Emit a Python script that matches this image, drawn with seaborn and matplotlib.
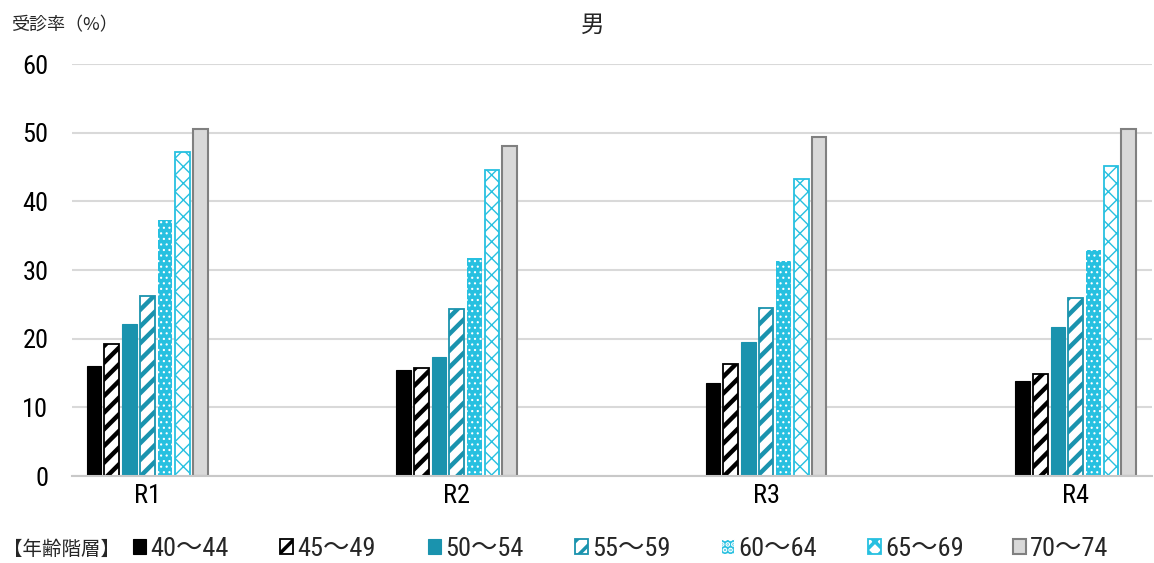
import matplotlib
matplotlib.use("Agg")
import matplotlib.pyplot as plt
from matplotlib import font_manager as fm
from matplotlib.patches import Patch
import seaborn as sns
import pandas as pd

# Screening rate (%) by fiscal year and age bracket, men
years = ["R1", "R2", "R3", "R4"]
age_groups = ["40～44", "45～49", "50～54", "55～59", "60～64", "65～69", "70～74"]
rate_40_44 = [16.0, 15.4, 13.6, 13.9]
rate_45_49 = [19.2, 15.7, 16.3, 14.9]
rate_50_54 = [22.1, 17.3, 19.5, 21.7]
rate_55_59 = [26.2, 24.3, 24.5, 25.9]
rate_60_64 = [37.3, 31.7, 31.3, 32.9]
rate_65_69 = [47.2, 44.6, 43.3, 45.1]
rate_70_74 = [50.5, 48.1, 49.4, 50.5]

series = [rate_40_44, rate_45_49, rate_50_54, rate_55_59, rate_60_64, rate_65_69, rate_70_74]
df = pd.DataFrame(
    [(y, g, v) for g, vals in zip(age_groups, series) for y, v in zip(years, vals)],
    columns=["year", "age", "rate"],
)

TEAL = "#1a93ae"
CYAN = "#27c0e0"
styles = [
    dict(facecolor="black", edgecolor="black", hatch=None, lw=0.8, hlw=1.0),
    dict(facecolor="white", edgecolor="black", hatch="//", lw=1.3, hlw=3.2),
    dict(facecolor=TEAL, edgecolor=TEAL, hatch=None, lw=0.8, hlw=1.0),
    dict(facecolor="white", edgecolor=TEAL, hatch="//", lw=1.3, hlw=3.2),
    dict(facecolor=CYAN, edgecolor="white", hatch="...", lw=0.0, hlw=0.8),
    dict(facecolor="white", edgecolor=CYAN, hatch="xx", lw=1.3, hlw=1.0),
    dict(facecolor="#d9d9d9", edgecolor="#808080", hatch=None, lw=1.5, hlw=1.0),
]

# pick a condensed Latin face when one is installed
installed = {f.name for f in fm.fontManager.ttflist}
latin = next((n for n in ["Roboto Condensed", "IBM Plex Sans Condensed",
                          "Open Sans Condensed", "Noto Sans"] if n in installed), "DejaVu Sans")
CJK = "Noto Sans CJK JP"

sns.set_theme(style="white")
plt.rcParams["font.family"] = [latin, CJK, "DejaVu Sans"]
plt.rcParams["hatch.linewidth"] = 2.5


def apply_style(p, st):
    p.set_facecolor(st["facecolor"])
    p.set_edgecolor(st["edgecolor"])
    p.set_linewidth(st["lw"])
    if st["hatch"]:
        p.set_hatch(st["hatch"])
        if hasattr(p, "set_hatch_linewidth"):
            p.set_hatch_linewidth(st["hlw"])


fig = plt.figure(figsize=(11.54, 5.63), dpi=100)
ax = fig.add_axes([72 / 1154, 1 - 476 / 563, 1080 / 1154, 412 / 563])

sns.barplot(data=df, x="year", y="rate", hue="age", hue_order=age_groups,
            order=years, width=0.40, gap=0.17, ax=ax, legend=False,
            palette=["black"] * 7, errorbar=None)

for cont, st in zip(ax.containers, styles):
    for bar in cont:
        apply_style(bar, st)

ax.set_xlim(-0.243, 3.247)
ax.set_ylim(0, 60)
ax.set_yticks(range(0, 61, 10))
ax.yaxis.grid(True, color="#d9d9d9", linewidth=1.5)
ax.set_axisbelow(True)
for s in ["top", "right", "left"]:
    ax.spines[s].set_visible(False)
ax.spines["bottom"].set_color("#c8c8c8")
ax.spines["bottom"].set_linewidth(1.5)
ax.tick_params(axis="both", length=0, labelsize=19, colors="black")
ax.tick_params(axis="y", pad=17)
ax.tick_params(axis="x", pad=6)
ax.set_xlabel("")
ax.set_ylabel("")

fig.text(11 / 1154, 1 - 25 / 563, "受診率（%）", fontsize=13,
         family=[CJK], va="center", ha="left")
fig.text(593 / 1154, 1 - 25 / 563, "男", fontsize=17,
         family=[CJK], va="center", ha="center")
fig.text(3 / 1154, 1 - 549 / 563, "【年齢階層】", fontsize=14,
         family=[CJK], va="center", ha="left")

# one legend entry per age bracket, spaced along the bottom edge
entry_x = [133, 280, 428, 575, 721, 868, 1013]
for st, label, x in zip(styles, age_groups, entry_x):
    h = Patch(label=label)
    apply_style(h, st)
    h.set_linewidth(max(st["lw"], 0.8))
    fig.legend(handles=[h], loc="center left",
               bbox_to_anchor=(x / 1154, 1 - 549 / 563), frameon=False,
               fontsize=19, handlelength=0.5, handleheight=0.5, handletextpad=0.15,
               borderaxespad=0, borderpad=0)

fig.savefig("out.png", dpi=100)
